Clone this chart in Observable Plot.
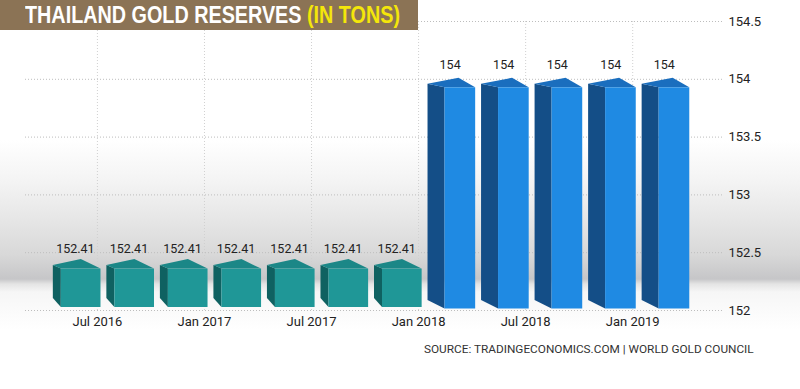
<!DOCTYPE html>
<html><head><meta charset="utf-8">
<script src="https://cdn.jsdelivr.net/npm/d3@7"></script>
<script src="https://cdn.jsdelivr.net/npm/@observablehq/plot@0.6"></script>
<style>
body{margin:0;background:#fff;}
#wrap{position:relative;width:800px;height:389px;overflow:hidden;
  background:linear-gradient(to bottom,#fff 0px,#fff 140px,#f4f4f4 180px,#e6e6e6 220px,#d8d8d8 255px,#c6c6c8 279px,#e4e4e4 284px,#f6f6f6 292px,#fff 330px);}
#chart{position:absolute;left:0;top:0;}
#title{position:absolute;left:0;top:0;width:418px;height:30px;background:#8b7355;overflow:hidden;}
#title .txt{position:absolute;left:25px;top:0;color:#fff;font:bold 23px "Liberation Sans",sans-serif;line-height:31px;white-space:nowrap;transform-origin:0 50%;}
#title span{color:#f4e60a;}
#source{position:absolute;left:424px;top:342px;font:11.8px Roboto,sans-serif;color:#333;white-space:nowrap;}
</style></head><body>
<div id="wrap"><div id="chart"></div>
<div id="title"><div class="txt">THAILAND GOLD RESERVES <span>(IN TONS)</span></div></div>
<div id="source">SOURCE: TRADINGECONOMICS.COM | WORLD GOLD COUNCIL</div>
</div>
<script>
const quarters = ["Jul 2016","Oct 2016","Jan 2017","Apr 2017","Jul 2017","Oct 2017","Jan 2018","Apr 2018","Jul 2018","Oct 2018","Jan 2019","Apr 2019"];
const reserves = [152.41,152.41,152.41,152.41,152.41,152.41,152.41,154,154,154,154,154];
const xTickLabels = ["Jul 2016","Jan 2017","Jul 2017","Jan 2018","Jul 2018","Jan 2019"];
const yTicks = [152,152.5,153,153.5,154,154.5];
const baseline = 152;

const latest = reserves[reserves.length - 1];
const rows = reserves.map((value, i) => ({i, quarter: quarters[i], value, group: value === latest ? "blue" : "teal"}));
const xTicks = xTickLabels.map(l => quarters.indexOf(l));

const geom = {
  teal: {s: 8, peak: 28, back: 2.4, peakDy: -3.6, front: 6, bottom: 3, sideBottom: 12, side: "#0f6161", top: "#1b8787", face: "#1f9797"},
  blue: {s: 17, peak: 31, back: 5, peakDy: -1, front: 8.5, bottom: 1.5, sideBottom: 10, side: "#144e87", top: "#1a6ebe", face: "#1f8ae3"}
};

function faces(index, scales) {
  const {x, y} = scales;
  const g = d3.create("svg:g");
  for (const d of rows) {
    const G = geom[d.group];
    const L = x(d.i - 0.45), R = x(d.i + 0.44), yv = y(d.value), y0 = y(baseline);
    g.append("polygon")
      .attr("points", [[L, yv + G.back], [L + G.s, yv + G.front], [L + G.s, y0 - G.bottom], [L, y0 - G.sideBottom]].join(" "))
      .attr("fill", G.side);
    g.append("polygon")
      .attr("points", [[L, yv + G.back], [L + G.peak, yv + G.peakDy], [R, yv + G.front], [L + G.s, yv + G.front]].join(" "))
      .attr("fill", G.top);
  }
  return g.node();
}

const front = (group) => Plot.rect(rows.filter(d => d.group === group), {
  x1: d => d.i - 0.45, x2: d => d.i + 0.44, y1: () => baseline, y2: "value",
  insetLeft: geom[group].s, insetTop: geom[group].front, insetBottom: geom[group].bottom,
  fill: geom[group].face
});

const chart = Plot.plot({
  width: 800, height: 389,
  marginLeft: 25, marginRight: 77, marginTop: 21, marginBottom: 79,
  x: {domain: [-0.97, 12.07], label: null},
  y: {domain: [152, 154.5], label: null},
  style: {background: "transparent", fontFamily: "Roboto, sans-serif", fontSize: "13px", color: "#222"},
  marks: [
    Plot.gridY(yTicks, {stroke: "#bdbdbd", strokeOpacity: 1, strokeDasharray: "1,2"}),
    Plot.gridX(xTicks, {dx: 20, stroke: "#d0d0d0", strokeOpacity: 1, strokeDasharray: "1,2"}),
    Plot.axisY(yTicks, {anchor: "right", tickSize: 0, tickPadding: 5, fontSize: 13, tickFormat: d => String(d)}),
    Plot.axisX(xTicks, {anchor: "bottom", tickSize: 0, tickPadding: 6, dx: 20, fontSize: 13, tickFormat: i => quarters[i]}),
    faces,
    front("teal"),
    front("blue"),
    Plot.text(rows, {x: "i", y: "value", text: d => String(d.value), dy: -14, dx: -2, fontSize: 12.5, fill: "#222"})
  ]
});
document.getElementById("chart").appendChild(chart);

const t = document.querySelector("#title .txt");
const w = t.getBoundingClientRect().width;
t.style.transform = `scaleX(${375 / w})`;
</script>
</body></html>
